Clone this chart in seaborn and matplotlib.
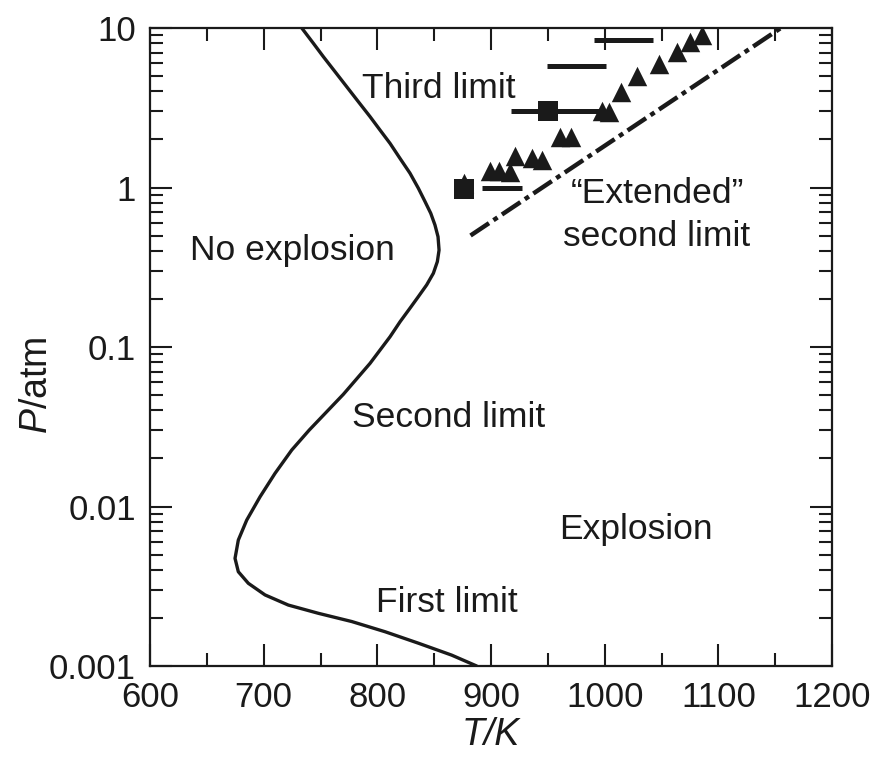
import numpy as np
import pandas as pd
import matplotlib
matplotlib.use("Agg")
import matplotlib.pyplot as plt
import matplotlib.ticker as mticker
import seaborn as sns

# ---- data ----
curve_T = [733.5, 743.7, 752.5, 762.8, 773.1, 783.3, 793.6, 802.4, 811.2, 820.0,
           828.7, 836.1, 842.0, 847.0, 850.7, 853.4, 854.3, 852.8, 849.3, 843.4,
           836.1, 828.7, 820.0, 811.2, 793.6, 770.1, 740.0, 724.7, 710.0, 696.8,
           685.1, 677.7, 674.8, 677.7, 686.5, 701.2, 721.7, 748.1, 777.5, 806.8,
           836.1, 865.4, 887.4]
curve_P = [10.0, 8.02, 6.61, 5.32, 4.28, 3.45, 2.78, 2.29, 1.89, 1.52,
           1.23, 0.989, 0.815, 0.689, 0.582, 0.491, 0.405, 0.343, 0.29, 0.245,
           0.207, 0.175, 0.144, 0.116, 0.079, 0.0505, 0.0301, 0.0226, 0.01614, 0.0115,
           0.00822, 0.00616, 0.00473, 0.0039, 0.0033, 0.00279, 0.00241, 0.00214, 0.0019, 0.00164,
           0.00139, 0.00117, 0.001]

ext_T = [882, 1155]
ext_P = [0.5, 10.0]

tri_T = [876.3, 899.1, 907.3, 916.7, 921.1, 935.8, 944.6, 960.7, 970.1, 997.4,
         1004.1, 1014.1, 1028.7, 1048.1, 1063.4, 1075.1, 1085.4]
tri_P = [1.07, 1.27, 1.26, 1.25, 1.58, 1.52, 1.49, 2.08, 2.08, 3.03,
         2.97, 3.99, 4.99, 5.97, 7.10, 8.21, 9.03]

sq_T = [876.3, 950.4]
sq_P = [0.975, 3.0]

bar_T = [1016.7, 975.3, 957.0, 909.4]
bar_P = [8.41, 5.78, 3.03, 0.99]
bar_half = [26.0, 26.3, 39.0, 17.6]

x_ticks = [600, 700, 800, 900, 1000, 1100, 1200]
y_ticks = [0.001, 0.01, 0.1, 1, 10]
y_tick_labels = ["0.001", "0.01", "0.1", "1", "10"]

region_labels = ["Third limit", "No explosion", "Second limit", "Explosion",
                 "First limit", "\u201cExtended\u201d\nsecond limit"]
region_T = [854, 725, 863, 1027.6, 861, 1046]
region_P = [4.2, 0.405, 0.0359, 0.00713, 0.00251, 0.671]

# ---- style ----
sns.set_theme(style="ticks")
plt.rcParams["font.family"] = ["Liberation Sans", "DejaVu Sans"]
plt.rcParams["mathtext.fontset"] = "custom"
plt.rcParams["mathtext.rm"] = "Liberation Sans"
plt.rcParams["mathtext.it"] = "Liberation Sans:italic"

INK = "#1a1a1a"

fig = plt.figure(figsize=(8.74, 7.59), dpi=100)
ax = fig.add_axes([150 / 874, 1 - 666 / 759, 682 / 874, 638 / 759])

df_curve = pd.DataFrame({"T": curve_T, "P": curve_P})
sns.lineplot(data=df_curve, x="T", y="P", sort=False, estimator=None,
             color=INK, lw=2.4, ax=ax)

df_ext = pd.DataFrame({"T": ext_T, "P": ext_P})
sns.lineplot(data=df_ext, x="T", y="P", sort=False, estimator=None,
             color=INK, lw=3.2, ax=ax,
             linestyle=(0, (5, 1.2, 1.1, 1.2)), dash_capstyle="butt")

ax.errorbar(bar_T, bar_P, xerr=bar_half, fmt="none", ecolor=INK,
            elinewidth=3.6, capsize=0)

df_tri = pd.DataFrame({"T": tri_T, "P": tri_P})
sns.scatterplot(data=df_tri, x="T", y="P", marker="^", s=14 ** 2,
                color=INK, linewidth=0, ax=ax, zorder=3)

df_sq = pd.DataFrame({"T": sq_T, "P": sq_P})
sns.scatterplot(data=df_sq, x="T", y="P", marker="s", s=14.4 ** 2,
                color=INK, linewidth=0, ax=ax, zorder=4)

for lab, t, p in zip(region_labels, region_T, region_P):
    ax.text(t, p, lab, ha="center", va="center", fontsize=25.5,
            color=INK, linespacing=1.4)

ax.set_yscale("log")
ax.set_xlim(600, 1200)
ax.set_ylim(0.001, 10)

ax.xaxis.set_major_locator(mticker.FixedLocator(x_ticks))
ax.xaxis.set_minor_locator(mticker.MultipleLocator(50))
ax.yaxis.set_major_locator(mticker.FixedLocator(y_ticks))
ax.yaxis.set_major_formatter(mticker.FixedFormatter(y_tick_labels))
ax.yaxis.set_minor_locator(mticker.LogLocator(base=10, subs=np.arange(2, 10)))
ax.yaxis.set_minor_formatter(mticker.NullFormatter())

ax.tick_params(axis="both", which="both", direction="in", top=True, right=True,
               color=INK, width=1.5)
ax.tick_params(axis="both", which="major", length=16, labelsize=25,
               labelcolor=INK)
ax.tick_params(axis="x", which="major", pad=11)
ax.tick_params(axis="y", which="major", pad=10)
ax.tick_params(axis="both", which="minor", length=9.5)

for sp in ax.spines.values():
    sp.set_linewidth(1.6)
    sp.set_color(INK)

ax.set_xlabel("T/K", fontsize=27, fontstyle="italic", color=INK, labelpad=2)
ax.set_ylabel(r"$\mathit{P}$/atm", fontsize=27, color=INK, labelpad=3)
ax.yaxis.set_label_coords(-0.14, 0.44)

fig.savefig("out.png", dpi=100)
